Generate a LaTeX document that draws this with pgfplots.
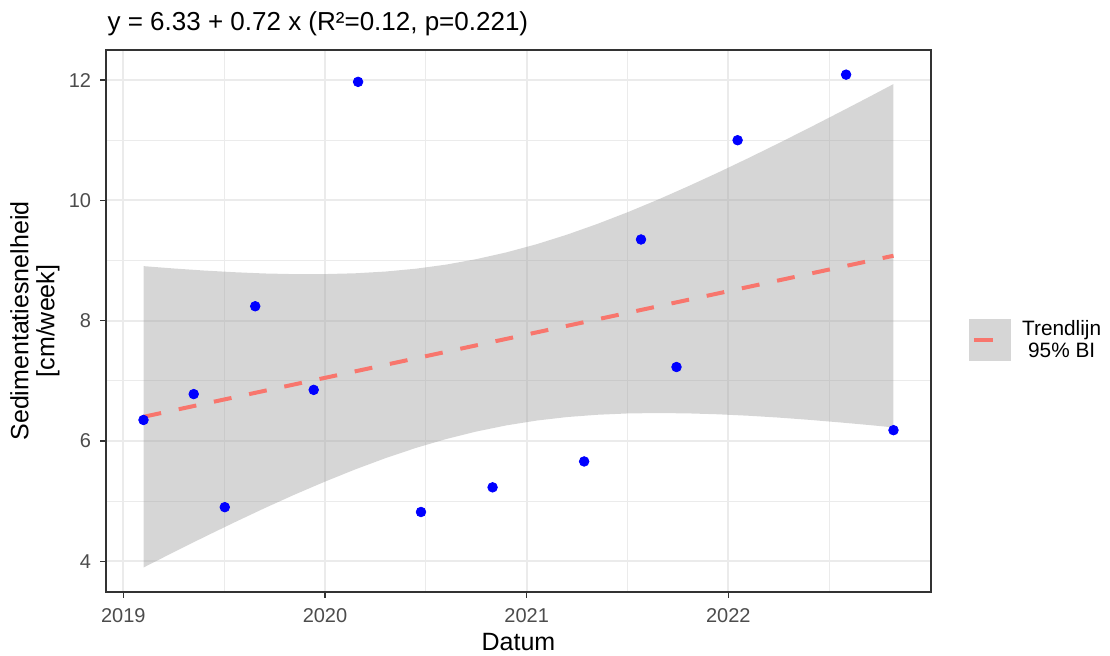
\documentclass[border=0pt]{standalone}
\usepackage{fontspec}
\setmainfont{Liberation Sans}
\usepackage{pgfplots}
\pgfplotsset{compat=1.18}

\definecolor{trend}{HTML}{F8766D}
\definecolor{ribbon}{gray}{0.6}
\definecolor{ribbonkey}{HTML}{D6D6D6}
\definecolor{gridmaj}{HTML}{EBEBEB}
\definecolor{border}{gray}{0.2}
\definecolor{ticktext}{gray}{0.3}

\begin{document}
\begin{tikzpicture}
\begin{axis}[
    width=412.5pt, height=271pt,
    scale only axis,
    xmin=2018.914, xmax=2023.005,
    ymin=3.49, ymax=12.50,
    xtick={2019,2020,2021,2022},
    xticklabels={2019,2020,2021,2022},
    minor xtick={2019.5,2020.5,2021.5,2022.5},
    ytick={4,6,8,10,12},
    minor ytick={5,7,9,11},
    grid=both,
    major grid style={draw=gridmaj, line width=1pt},
    minor grid style={draw=gridmaj, line width=0.5pt},
    axis line style={draw=border, line width=0.7pt},
    tick align=outside,
    major tick length=2.8pt,
    minor tick length=0pt,
    tick style={draw=border, line width=0.8pt},
    xtick pos=bottom, ytick pos=left,
    /pgf/number format/assume math mode=true,
    ticklabel style={font=\fontsize{10}{12}\selectfont, text=ticktext},
    yticklabel style={inner sep=0pt, xshift=-4.5pt},
    xticklabel style={inner sep=0pt, yshift=-5.5pt},
    xlabel={Datum},
    xlabel style={font=\fontsize{12.5}{14}\selectfont, at={(axis description cs:0.5,0)}, anchor=base, inner sep=0pt, yshift=-29pt},
    ylabel={Sedimentatiesnelheid\\{[cm/week]}},
    ylabel style={font=\fontsize{12.5}{13}\selectfont, align=center, at={(axis description cs:-0.0558,0.5)}, anchor=south, inner sep=0pt},
    title={y = 6.33 + 0.72 x (R²=0.12, p=0.221)},
    title style={font=\fontsize{13}{15}\selectfont, at={(axis description cs:0,1)}, anchor=base west, inner sep=0pt, xshift=0.6pt, yshift=3.7pt},
    legend style={at={(axis description cs:1.046,0.465)}, anchor=west, draw=none, fill=none, inner sep=0pt,
        font=\fontsize{10.4}{11}\selectfont, cells={align=center}, column sep=3.5pt},
    clip=true,
]
% observations
\addplot[only marks, mark=*, mark size=2.4pt, color=blue, forget plot] coordinates {
(2019.100, 6.35) (2019.349, 6.78) (2019.503, 4.90) (2019.654, 8.24)
(2019.944, 6.85) (2020.164, 11.97) (2020.476, 4.82) (2020.831, 5.23)
(2021.285, 5.66) (2021.567, 9.35) (2021.743, 7.23) (2022.046, 11.00)
(2022.584, 12.09) (2022.819, 6.18)
};
% 95% band
\addplot[draw=none, fill=ribbon, fill opacity=0.4, forget plot] coordinates {
(2019.100, 8.907) (2019.250, 8.868) (2019.400, 8.834) (2019.550, 8.806)
(2019.700, 8.785) (2019.850, 8.774) (2020.000, 8.775) (2020.150, 8.788)
(2020.300, 8.817) (2020.450, 8.864) (2020.600, 8.932) (2020.750, 9.023)
(2020.900, 9.136) (2021.050, 9.272) (2021.200, 9.430) (2021.350, 9.608)
(2021.500, 9.802) (2021.650, 10.011) (2021.800, 10.233) (2021.950, 10.464)
(2022.100, 10.704) (2022.250, 10.951) (2022.400, 11.204) (2022.550, 11.462)
(2022.700, 11.723) (2022.819, 11.934)
(2022.819, 6.226) (2022.700, 6.265) (2022.550, 6.310) (2022.400, 6.352)
(2022.250, 6.389) (2022.100, 6.420) (2021.950, 6.444) (2021.800, 6.459)
(2021.650, 6.465) (2021.500, 6.458) (2021.350, 6.436) (2021.200, 6.398)
(2021.050, 6.340) (2020.900, 6.260) (2020.750, 6.157) (2020.600, 6.032)
(2020.450, 5.884) (2020.300, 5.715) (2020.150, 5.528) (2020.000, 5.325)
(2019.850, 5.110) (2019.700, 4.883) (2019.550, 4.646) (2019.400, 4.402)
(2019.250, 4.152) (2019.100, 3.897)
} -- cycle;
% trend line
\addplot[draw=trend, line width=2pt, dash pattern=on 9pt off 9pt, forget plot] coordinates {
(2019.100, 6.402) (2022.819, 9.080)
};
\addlegendimage{legend image code/.code={
    \fill[ribbonkey] (0pt,-10.25pt) rectangle (20.5pt,10.25pt);
    \draw[trend, line width=2pt] (2pt,0pt) -- (11.5pt,0pt);
}}
\addlegendentry{Trendlijn\\95\% BI}
\coordinate (bbsw) at (rel axis cs:-0.12848,-0.11624);
\coordinate (bbne) at (rel axis cs:1.21697,1.09225);
\end{axis}
\path (bbsw) rectangle (bbne);
\end{tikzpicture}
\end{document}
